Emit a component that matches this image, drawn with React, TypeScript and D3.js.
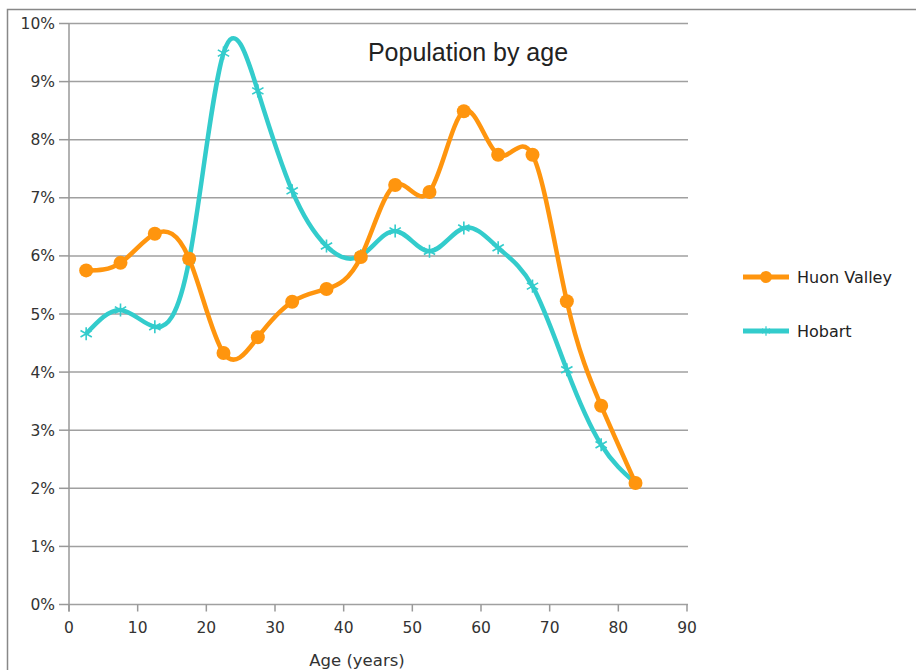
import React from "react";
import * as d3 from "d3";

const ages = [2.5, 7.5, 12.5, 17.5, 22.5, 27.5, 32.5, 37.5, 42.5, 47.5, 52.5, 57.5, 62.5, 67.5, 72.5, 77.5, 82.5];
const huonValley = [5.75, 5.88, 6.38, 5.95, 4.33, 4.6, 5.21, 5.43, 5.98, 7.22, 7.1, 8.49, 7.74, 7.74, 5.22, 3.42, 2.09];
const hobart = [4.66, 5.07, 4.78, 5.93, 9.49, 8.84, 7.12, 6.17, 6.0, 6.43, 6.08, 6.48, 6.14, 5.48, 4.04, 2.75, 2.09];
const xTicks = [0, 10, 20, 30, 40, 50, 60, 70, 80, 90];
const yTicks = [0, 1, 2, 3, 4, 5, 6, 7, 8, 9, 10];
const seriesNames = ["Huon Valley", "Hobart"];
const title = "Population by age";
const xTitle = "Age (years)";

const ORANGE = "#ff950e";
const TEAL = "#33cccc";
const DEJAVU = "'DejaVu Sans', Verdana, sans-serif";

export default function App() {
  const W = 916, H = 670;
  const x = d3.scaleLinear().domain([0, 90]).range([69, 687]);
  const y = d3.scaleLinear().domain([0, 10]).range([604.5, 23.5]);
  const line = d3
    .line<[number, number]>()
    .x((d) => x(d[0]))
    .y((d) => y(d[1]))
    .curve(d3.curveNatural);
  const huonPts: [number, number][] = ages.map((a, i) => [a, huonValley[i]]);
  const hobPts: [number, number][] = ages.map((a, i) => [a, hobart[i]]);
  const asterisk = d3.symbol().type(d3.symbolAsterisk).size(120)();
  const asteriskSmall = d3.symbol().type(d3.symbolAsterisk).size(60)();

  return (
    <svg width={W} height={H} style={{ position: "absolute", left: 0, top: 0, background: "#fff" }}>
      <rect x={0} y={0} width={W} height={H} fill="#fff" />
      {/* chart frame */}
      <path d={`M7.5,${H} V9.5 H${W}`} fill="none" stroke="#888" strokeWidth={1.5} />
      {/* gridlines */}
      {yTicks.map((t) => (
        <line key={"g" + t} x1={x(0)} x2={x(90) + 1} y1={y(t)} y2={y(t)} stroke="#a0a0a0" strokeWidth={1.5} />
      ))}
      {/* y axis */}
      <line x1={x(0)} x2={x(0)} y1={y(10)} y2={y(0) + 7} stroke="#999" strokeWidth={1.5} />
      {yTicks.map((t) => (
        <g key={"y" + t}>
          <line x1={x(0) - 10} x2={x(0)} y1={y(t)} y2={y(t)} stroke="#999" strokeWidth={1.5} />
          <text x={55} y={y(t)} dy="0.36em" textAnchor="end" fontFamily={DEJAVU} fontSize={15.5} fill="#333">
            {t + "%"}
          </text>
        </g>
      ))}
      {/* x axis ticks */}
      {xTicks.map((t) => (
        <g key={"x" + t}>
          <line x1={x(t)} x2={x(t)} y1={y(0)} y2={y(0) + 7} stroke="#999" strokeWidth={1.5} />
          <text x={x(t)} y={633} textAnchor="middle" fontFamily={DEJAVU} fontSize={15.5} fill="#333">
            {t}
          </text>
        </g>
      ))}
      <text x={357} y={666} textAnchor="middle" fontFamily={DEJAVU} fontSize={16.5} fill="#333">
        {xTitle}
      </text>
      {/* title */}
      <text x={468} y={61} textAnchor="middle" fontFamily="'Liberation Sans', Arial, sans-serif" fontSize={25} fill="#222">
        {title}
      </text>
      {/* Hobart series */}
      <path d={line(hobPts) || ""} fill="none" stroke={TEAL} strokeWidth={4.5} strokeLinejoin="round" />
      {hobPts.map((p, i) => (
        <path key={"hm" + i} d={asterisk || ""} transform={`translate(${x(p[0])},${y(p[1])})`} fill="none" stroke={TEAL} strokeWidth={1.6} />
      ))}
      {/* Huon Valley series */}
      <path d={line(huonPts) || ""} fill="none" stroke={ORANGE} strokeWidth={4.5} strokeLinejoin="round" />
      {huonPts.map((p, i) => (
        <circle key={"om" + i} cx={x(p[0])} cy={y(p[1])} r={7} fill={ORANGE} />
      ))}
      {/* legend */}
      <g>
        <line x1={743} x2={789} y1={277} y2={277} stroke={ORANGE} strokeWidth={5} />
        <circle cx={766} cy={277} r={6} fill={ORANGE} />
        <text x={797} y={277} dy="0.36em" fontFamily={DEJAVU} fontSize={16} fill="#222">
          {seriesNames[0]}
        </text>
        <line x1={743} x2={789} y1={331} y2={331} stroke={TEAL} strokeWidth={5} />
        <path d={asteriskSmall || ""} transform="translate(766,331)" fill="none" stroke={TEAL} strokeWidth={1.2} />
        <text x={797} y={331} dy="0.36em" fontFamily={DEJAVU} fontSize={16} fill="#222">
          {seriesNames[1]}
        </text>
      </g>
    </svg>
  );
}
